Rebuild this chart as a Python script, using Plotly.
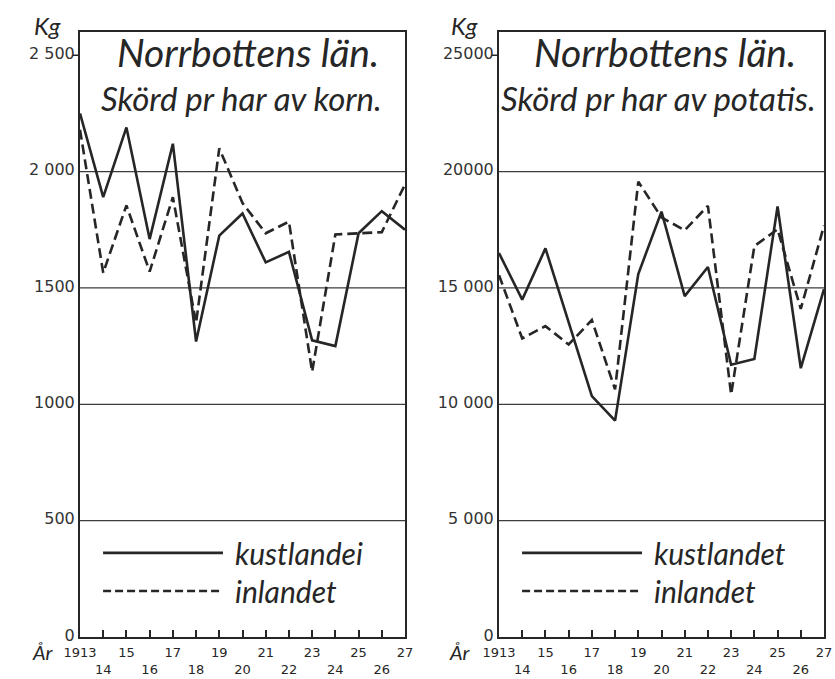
import plotly.graph_objects as go

years = list(range(1913, 1928))
korn_kust = [2250, 1890, 2190, 1710, 2120, 1270, 1725, 1820, 1610, 1655, 1275, 1250, 1735, 1830, 1750]
korn_inland = [2180, 1565, 1855, 1570, 1890, 1350, 2100, 1865, 1735, 1785, 1140, 1730, 1735, 1740, 1945]
pot_kust = [16500, 14500, 16700, 13550, 10350, 9300, 15600, 18280, 14650, 15900, 11700, 11950, 18500, 11550, 14950]
pot_inland = [15550, 12830, 13360, 12570, 13620, 10640, 19570, 18030, 17480, 18530, 10420, 16800, 17520, 14100, 17680]

korn_ticks = [0, 500, 1000, 1500, 2000, 2500]
korn_ticktext = ["0", "500", "1000", "1500", "2 000", "2 500"]
korn_grid = [500, 1000, 1500, 2000]
pot_ticks = [0, 5000, 10000, 15000, 20000, 25000]
pot_ticktext = ["0", "5 000", "10 000", "15 000", "20000", "25000"]
pot_grid = [5000, 10000, 15000, 20000]

title_main = "Norrbottens län."
subtitles = ["Skörd pr har av korn.", "Skörd pr har av potatis."]
legend_names = [["kustlandei", "inlandet"], ["kustlandet", "inlandet"]]

INK = "#262626"
HAND = "Lato, 'Open Sans', sans-serif"
NUM = "'DejaVu Sans', sans-serif"

W, H = 835, 679


def px(x):
    return x / W


def py(y):
    return 1 - y / H


year_text = []
for i, y in enumerate(years):
    lab = str(y) if i == 0 else str(y)[2:]
    year_text.append(lab if i % 2 == 0 else "<br>" + lab)

fig = go.Figure()
fig.add_trace(go.Scatter(x=years, y=korn_kust, mode="lines", line=dict(color=INK, width=2.6),
                         xaxis="x", yaxis="y", showlegend=False))
fig.add_trace(go.Scatter(x=years, y=korn_inland, mode="lines", line=dict(color=INK, width=2.6, dash="10px,5px"),
                         xaxis="x", yaxis="y", showlegend=False))
fig.add_trace(go.Scatter(x=years, y=pot_kust, mode="lines", line=dict(color=INK, width=2.6),
                         xaxis="x2", yaxis="y2", showlegend=False))
fig.add_trace(go.Scatter(x=years, y=pot_inland, mode="lines", line=dict(color=INK, width=2.6, dash="10px,5px"),
                         xaxis="x2", yaxis="y2", showlegend=False))

dom_x1 = [px(80), px(405)]
dom_x2 = [px(499), px(824)]
dom_y = [py(637), py(32)]

xcommon = dict(range=[years[0], years[-1]], tickmode="array", tickvals=years, ticktext=year_text,
               tickangle=0, ticks="inside", ticklen=7, tickwidth=1.5, tickcolor=INK,
               ticklabelstandoff=2,
               showline=True, linecolor=INK, linewidth=2, mirror=True, showgrid=False,
               zeroline=False, tickfont=dict(family=NUM, size=13, color=INK), automargin=False)
ycommon = dict(showline=True, linecolor=INK, linewidth=2, mirror=True, showgrid=False,
               zeroline=False, ticks="", tickangle=0, ticklabelshift=-2,
               tickfont=dict(family=NUM, size=16, color="#333"), automargin=False)

fig.update_layout(
    width=W, height=H,
    margin=dict(l=0, r=0, t=0, b=0),
    paper_bgcolor="white", plot_bgcolor="white",
    xaxis=dict(domain=dom_x1, anchor="y", **xcommon),
    xaxis2=dict(domain=dom_x2, anchor="y2", **xcommon),
    yaxis=dict(domain=dom_y, anchor="x", range=[0, 2600], tickmode="array",
               tickvals=korn_ticks, ticktext=korn_ticktext, **ycommon),
    yaxis2=dict(domain=dom_y, anchor="x2", range=[0, 26000], tickmode="array",
                tickvals=pot_ticks, ticktext=pot_ticktext, **ycommon),
)

shapes = []
annotations = []
panels = [("x", "y", subtitles[0], korn_grid, korn_ticks[-1], 0.517, 0.498, -0.10, -0.075),
          ("x2", "y2", subtitles[1], pot_grid, pot_ticks[-1], 0.51, 0.49, -0.105, -0.08)]
for k, (xr, yr, sub, grid, top, tx, sx, kx, ax) in enumerate(panels):
    xd = xr + " domain"
    yd = yr + " domain"
    for g in grid:
        shapes.append(dict(type="line", xref=xd, yref=yr, x0=0, x1=1, y0=g, y1=g,
                           line=dict(color="#3c3c3c", width=1.3), layer="below"))
    # outward tick at top label
    shapes.append(dict(type="line", xref=xd, yref=yr, x0=-0.022, x1=0, y0=top, y1=top,
                       line=dict(color=INK, width=1.5)))
    # legend samples
    shapes.append(dict(type="line", xref=xd, yref=yd, x0=0.071, x1=0.44, y0=0.139, y1=0.139,
                       line=dict(color=INK, width=2.6)))
    shapes.append(dict(type="line", xref=xd, yref=yd, x0=0.071, x1=0.44, y0=0.076, y1=0.076,
                       line=dict(color=INK, width=2.6, dash="8px,4px")))
    annotations.append(dict(xref=xd, yref=yd, x=0.47, y=0.139, text="<i>" + legend_names[k][0] + "</i>",
                            showarrow=False, xanchor="left", yanchor="middle",
                            font=dict(family=HAND, size=30, color=INK)))
    annotations.append(dict(xref=xd, yref=yd, x=0.47, y=0.076, text="<i>" + legend_names[k][1] + "</i>",
                            showarrow=False, xanchor="left", yanchor="middle",
                            font=dict(family=HAND, size=30, color=INK)))
    # titles
    annotations.append(dict(xref=xd, yref="paper", x=tx, y=py(52), text="<i>" + title_main + "</i>",
                            showarrow=False, xanchor="center", yanchor="middle",
                            font=dict(family=HAND, size=39, color=INK)))
    annotations.append(dict(xref=xd, yref="paper", x=sx, y=py(98), text="<i>" + sub + "</i>",
                            showarrow=False, xanchor="center", yanchor="middle",
                            font=dict(family=HAND, size=33, color=INK)))
    # Kg unit
    annotations.append(dict(xref=xd, yref="paper", x=kx, y=py(26), text="<i>Kg</i>",
                            showarrow=False, xanchor="center", yanchor="middle",
                            font=dict(family=HAND, size=24, color=INK)))
    # År label
    annotations.append(dict(xref=xd, yref="paper", x=ax, y=py(652), text="<i>År</i>",
                            showarrow=False, xanchor="right", yanchor="middle",
                            font=dict(family=HAND, size=20, color=INK)))

fig.update_layout(shapes=shapes, annotations=annotations)
fig.write_html("out.html", config={"displayModeBar": False},
               post_script="document.body.style.margin='0';document.body.style.overflow='hidden';")
